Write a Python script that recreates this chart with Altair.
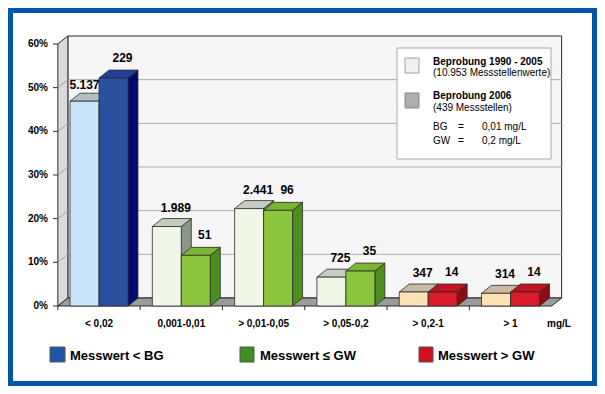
import altair as alt
import pandas as pd

# ---------------- data ----------------
categories = ["< 0,02", "0,001-0,01", "> 0,01-0,05", "> 0,05-0,2", "> 0,2-1", "> 1"]
pct_1990_2005 = [46.9, 18.2, 22.3, 6.6, 3.2, 2.9]      # % of 10.953 values
pct_2006 = [52.2, 11.6, 21.9, 8.0, 3.2, 3.2]           # % of 439 sites
labels_1990_2005 = ["5.137", "1.989", "2.441", "725", "347", "314"]
labels_2006 = ["229", "51", "96", "35", "14", "14"]
y_ticks = [0, 10, 20, 30, 40, 50, 60]

# ---------------- styles ----------------
light_front = ["#c9e3fb", "#eff8e6", "#eff8e6", "#eff8e6", "#fde2b6", "#fde2b6"]
light_top = ["#b6bdc4", "#c5cdc0", "#c5cdc0", "#c5cdc0", "#c9b9a6", "#c9b9a6"]
light_side = ["#8f969d", "#8b9589", "#8b9589", "#8b9589", "#9d8f7e", "#9d8f7e"]
dark_front = ["#2a51a0", "#8cc63e", "#8cc63e", "#8cc63e", "#d81b2a", "#d81b2a"]
dark_top = ["#22409a", "#7ab535", "#7ab535", "#7ab535", "#c41420", "#c41420"]
dark_side = ["#000b6d", "#4e8e1e", "#4e8e1e", "#4e8e1e", "#8a0c14", "#8a0c14"]
EDGE = "#2b2b2b"
FONT = "Liberation Sans"
BLUE_FRAME = "#0057a8"

N = len(categories)
BAR_W = 0.352     # bar width in category units
DX = 0.1215       # 3-D depth, category units
DY = 1.832        # 3-D depth, percent units
X_LEFT = -0.5
X_RIGHT = N - 0.5

xs = alt.Scale(domain=[0, 5], range=[91, 502.5], nice=False, zero=False)
ys = alt.Scale(domain=[0, 60], range=[298, 36], nice=False, zero=False)


def bar_tables(vals, offset, front, top, side, tag):
    fr, tp, sd = [], [], []
    for i, v in enumerate(vals):
        xl = i + offset
        xr = xl + BAR_W
        b = f"{tag}{i}"
        fr.append(dict(x=xl, x2=xr, y=0.0, y2=v, fill=front[i]))
        tp.append(dict(bar=b, y=v, x=xl, x2=xr, fill=top[i]))
        tp.append(dict(bar=b, y=v + DY, x=xl + DX, x2=xr + DX, fill=top[i]))
        sd.append(dict(bar=b, x=xr, y=0.0, y2=v, fill=side[i]))
        sd.append(dict(bar=b, x=xr + DX, y=DY, y2=v + DY, fill=side[i]))
    return pd.DataFrame(fr), pd.DataFrame(tp), pd.DataFrame(sd)


lf, lt, ls = bar_tables(pct_1990_2005, -BAR_W, light_front, light_top, light_side, "a")
df_, dt, ds = bar_tables(pct_2006, 0.0, dark_front, dark_top, dark_side, "b")


def fronts(df):
    return alt.Chart(df).mark_rect(stroke=EDGE, strokeWidth=0.8, opacity=1).encode(
        x=alt.X("x:Q", scale=xs, axis=None), x2="x2:Q",
        y=alt.Y("y:Q", scale=ys, axis=None), y2="y2:Q",
        color=alt.Color("fill:N", scale=None))


def h_area(df, fill, sw=0.8):
    return alt.Chart(df).mark_area(orient="horizontal", fill=fill, stroke=EDGE, strokeWidth=sw,
                                   opacity=1, interpolate="linear").encode(
        y=alt.Y("y:Q", scale=ys, axis=None),
        x=alt.X("x:Q", scale=xs, axis=None, stack=None), x2="x2:Q",
        detail="bar:N")


def v_area(df, fill, sw=0.8):
    return alt.Chart(df).mark_area(orient="vertical", fill=fill, stroke=EDGE, strokeWidth=sw,
                                   opacity=1, interpolate="linear").encode(
        x=alt.X("x:Q", scale=xs, axis=None),
        y=alt.Y("y:Q", scale=ys, axis=None, stack=None), y2="y2:Q",
        detail="bar:N")


def faces(df, maker):
    return [maker(df[df["fill"] == c], c) for c in dict.fromkeys(df["fill"])]


# ---------------- walls ----------------
back_wall = alt.Chart(pd.DataFrame([dict(x=X_LEFT + DX, x2=X_RIGHT + DX, y=DY, y2=60 + DY)])).mark_rect(
    fill="#f6f6f6", stroke=EDGE, strokeWidth=1).encode(
    x=alt.X("x:Q", scale=xs, axis=None), x2="x2:Q",
    y=alt.Y("y:Q", scale=ys, axis=None), y2="y2:Q")

grid_back = pd.DataFrame([dict(x=X_LEFT + DX, x2=X_RIGHT + DX, y=v + DY, y2=v + DY) for v in y_ticks[1:-1]])
grid_wall = pd.DataFrame([dict(x=X_LEFT, x2=X_LEFT + DX, y=v, y2=v + DY) for v in y_ticks[1:-1]])


def rules(df, color):
    return alt.Chart(df).mark_rule(color=color, strokeWidth=1).encode(
        x=alt.X("x:Q", scale=xs, axis=None), x2="x2:Q",
        y=alt.Y("y:Q", scale=ys, axis=None), y2="y2:Q")


left_wall = alt.Chart(pd.DataFrame([
    dict(bar="w", x=X_LEFT, y=0.0, y2=60.0), dict(bar="w", x=X_LEFT + DX, y=DY, y2=60 + DY)]))
left_wall = v_area(left_wall.data, "#dadada", 1)
floor = h_area(pd.DataFrame([
    dict(bar="f", y=0.0, x=X_LEFT, x2=X_RIGHT), dict(bar="f", y=DY, x=X_LEFT + DX, x2=X_RIGHT + DX)]),
    "#9b9b9b", 1)

# x ticks at category boundaries
x_ticks = alt.Chart(pd.DataFrame({"x": [X_LEFT + k for k in range(N)],
                                  "y": [0.0] * N, "y2": [-0.95] * N})).mark_rule(
    color=EDGE, strokeWidth=1).encode(
    x=alt.X("x:Q", scale=xs, axis=None),
    y=alt.Y("y:Q", scale=ys, axis=None), y2="y2:Q")

# y axis: tick marks + labels
ytab = pd.DataFrame({"v": y_ticks, "t": [f"{v}%" for v in y_ticks]})
y_tick_marks = alt.Chart(ytab).mark_rule(color=EDGE, strokeWidth=1).encode(
    x=alt.value(45), x2=alt.value(50), y=alt.Y("v:Q", scale=ys, axis=None))
y_labels = alt.Chart(ytab).mark_text(align="right", baseline="middle", font=FONT, fontSize=10,
                                     fontWeight="bold", color="#000").encode(
    x=alt.value(40), y=alt.Y("v:Q", scale=ys, axis=None), text="t:N")

# category labels
xtab = pd.DataFrame({"i": list(range(N)), "t": categories})
x_labels = alt.Chart(xtab).mark_text(align="center", baseline="middle", font=FONT, fontSize=10,
                                     fontWeight="bold", color="#000").encode(
    x=alt.X("i:Q", scale=xs, axis=None), y=alt.value(316), text="t:N")

# ---------------- value labels ----------------
lab_light = pd.DataFrame({"x": [i - BAR_W / 2 for i in range(N)],
                          "y": [v + DY for v in pct_1990_2005],
                          "t": labels_1990_2005, "i": list(range(N))})
lab_dark = pd.DataFrame({"x": [i + BAR_W / 2 for i in range(N)],
                         "y": [v + DY for v in pct_2006],
                         "t": labels_2006})


def value_text(df, dx, dy):
    return alt.Chart(df).mark_text(dx=dx, dy=dy, baseline="bottom", align="center",
                                   font=FONT, fontSize=12, fontWeight="bold", color="#000").encode(
        x=alt.X("x:Q", scale=xs, axis=None), y=alt.Y("y:Q", scale=ys, axis=None), text="t:N")


txt_light_rest = value_text(lab_light[lab_light["i"] > 0], 9, -4)
txt_light_first = value_text(lab_light[lab_light["i"] == 0], 0, -1)
txt_dark = value_text(lab_dark, 9, -5)

one = pd.DataFrame({"a": [0]})


def box(x1, y1, x2, y2, fill, stroke, sw=1):
    return alt.Chart(one).mark_rect(fill=fill, stroke=stroke, strokeWidth=sw).encode(
        x=alt.value(x1), x2=alt.value(x2), y=alt.value(y1), y2=alt.value(y2))


def label(text, x, y, size=10, weight="normal", align="left"):
    return alt.Chart(one).mark_text(text=text, align=align, baseline="middle", font=FONT,
                                    fontSize=size, fontWeight=weight, color="#000").encode(
        x=alt.value(x), y=alt.value(y))


unit = label("mg/L", 551, 316, 10, "bold", "center")

legend_box = [
    box(389, 40, 543, 151, "#ffffff", "#a8a8a8"),
    box(397, 50, 411, 65, "#f0f0f0", "#a0a0a0"),
    box(397, 85, 411, 100, "#b0adab", "#8a8a8a"),
    label("Beprobung 1990 - 2005", 425, 54, 10, "bold"),
    label("(10.953 Messstellenwerte)", 425, 65, 10),
    label("Beprobung 2006", 425, 88, 10, "bold"),
    label("(439 Messstellen)", 425, 100, 10),
    label("BG", 425, 119, 10), label("=", 450, 119, 10), label("0,01 mg/L", 474, 119, 10),
    label("GW", 425, 133, 10), label("=", 450, 133, 10), label("0,2 mg/L", 474, 133, 10),
]

bottom_legend = [
    box(42, 339, 57, 354, "#1e56a8", "#555555"),
    label("Messwert < BG", 62, 348, 13, "bold"),
    box(232, 339, 246, 354, "#3f8f1f", "#555555"),
    label("Messwert \u2264 GW", 252, 348, 13, "bold"),
    box(411, 339, 425, 354, "#d0101c", "#555555"),
    label("Messwert > GW", 430, 348, 13, "bold"),
]

frame = alt.Chart(one).mark_rect(fill="#ffffff", fillOpacity=0, stroke=BLUE_FRAME, strokeWidth=10).encode(
    x=alt.value(0), x2=alt.value(589), y=alt.value(0), y2=alt.value(378))

chart = alt.layer(
    back_wall, rules(grid_back, "#ababab"), left_wall, rules(grid_wall, "#a3a3a3"), floor, x_ticks,
    y_tick_marks, y_labels, x_labels,
    *faces(ls, v_area), *faces(lt, h_area), fronts(lf),
    *faces(ds, v_area), *faces(dt, h_area), fronts(df_),
    txt_light_rest, txt_light_first, txt_dark, unit,
    *legend_box, *bottom_legend, frame,
).properties(
    width=589, height=378, padding=0, autosize=alt.AutoSizeParams(type="none"),
    background="#ffffff",
).configure_view(stroke=None)

chart.save("out.html", embed_options={"renderer": "svg", "actions": False})
